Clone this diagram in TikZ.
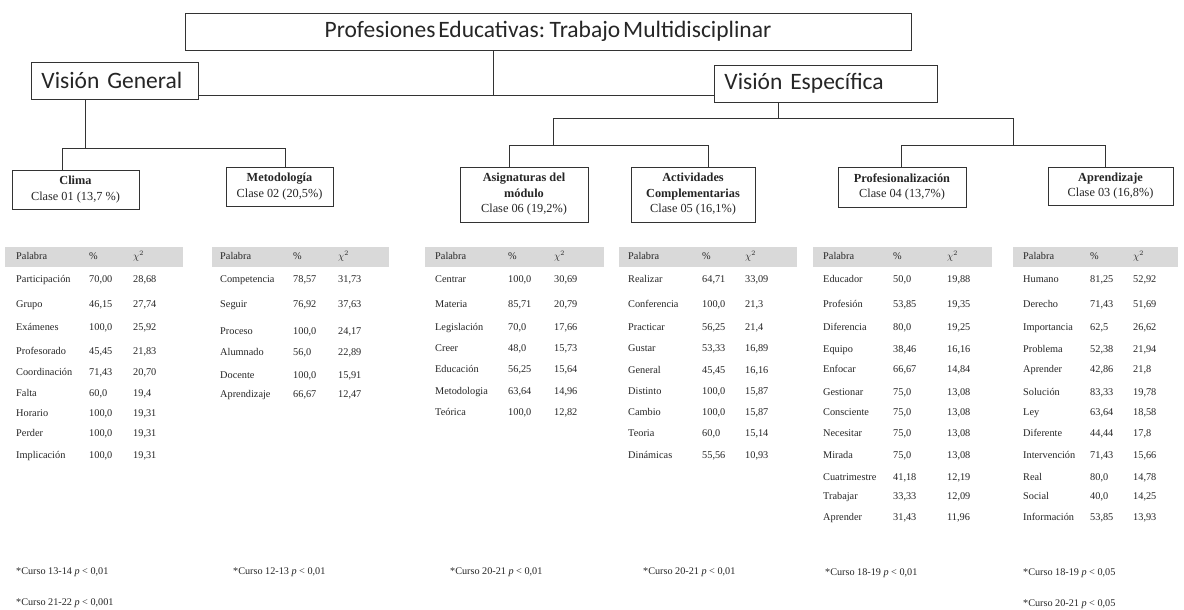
\documentclass[tikz,border=0pt]{standalone}
\usepackage{fontspec}
\setmainfont{Liberation Serif}
\newfontfamily\calibri[WordSpace=0.55]{Carlito}
\newcommand\settab[3]{\def\tXa{#1}\def\tXb{#2}\def\tXc{#3}}
\newcommand\trow[4]{%
  \node[cell] (w\tXa-#1) at (\tXa,#1) {#2};
  \node[cell] (p\tXa-#1) at (\tXb,#1) {#3};
  \node[cell] (c\tXa-#1) at (\tXc,#1) {#4};}
\begin{document}
\begin{tikzpicture}[x=1pt,y=-1pt,
  conn/.style={draw=black!80, line width=0.9pt},
  bigbox/.style={draw=black!80, line width=0.9pt, font=\calibri\fontsize{23.5}{26}\selectfont, inner xsep=10pt, inner ysep=0pt, align=left, anchor=west, text=black!85},
  clsbox/.style={draw=black!80, line width=0.9pt, font=\fontsize{12.3}{15.5}\selectfont, align=center, inner sep=0pt, text=black!85},
  cell/.style={anchor=west, inner sep=0pt, font=\fontsize{10.3}{12}\selectfont, text=black!85, text height=7pt, text depth=2pt},
  hdr/.style={fill=black!15, draw=none},
  foot/.style={anchor=west, inner sep=0pt, font=\fontsize{10.2}{12}\selectfont, text=black!85}]
\useasboundingbox (0,0) rectangle (1184,610);
\fill[white] (0,0) rectangle (1184,610);

% top boxes
\node[draw=black!80, line width=0.9pt, minimum width=726pt, minimum height=37pt, inner sep=0pt, text=black!85,
  font=\calibri\fontsize{23.5}{26}\selectfont] (title) at (548,31.5) {Profesiones Educativas: Trabajo Multidisciplinar};
\node[bigbox, text width=147pt, minimum height=37pt] (vg) at (31,80.5) {Visión General};
\node[bigbox, text width=203pt, minimum height=37pt] (ve) at (714,83.5) {Visión Específica};

% class boxes
\node[clsbox, minimum width=127pt, minimum height=39pt] (clima) at (75.5,189.5) {\textbf{Clima}\\Clase 01 (13,7 \%)};
\node[clsbox, minimum width=107pt, minimum height=39pt] (metod) at (279.5,186.5) {\textbf{Metodología}\\Clase 02 (20,5\%)};
\node[clsbox, minimum width=128pt, minimum height=55pt] (asig) at (524,194.5) {\textbf{Asignaturas del}\\\textbf{módulo}\\Clase 06 (19,2\%)};
\node[clsbox, minimum width=124pt, minimum height=55pt] (activ) at (693,194.5) {\textbf{Actividades}\\\textbf{Complementarias}\\Clase 05 (16,1\%)};
\node[clsbox, minimum width=128pt, minimum height=40pt] (prof) at (902,187) {\textbf{Profesionalización}\\Clase 04 (13,7\%)};
\node[clsbox, minimum width=125pt, minimum height=38pt] (apren) at (1110.5,186) {\textbf{Aprendizaje}\\Clase 03 (16,8\%)};

% connectors
\coordinate (j1) at (493,95);
\draw[conn] (title.south -| j1) -- (j1);
\draw[conn] (vg.east |- j1) -- (ve.west |- j1);

\coordinate (j2) at (85,148);
\coordinate (a1) at (62,148);
\coordinate (a2) at (285,148);
\draw[conn] (vg.south -| j2) -- (j2);
\draw[conn] (a1) -- (a2);
\draw[conn] (a1) -- (a1 |- clima.north);
\draw[conn] (a2) -- (a2 |- metod.north);

\coordinate (b0) at (778,118);
\coordinate (b1) at (553,118);
\coordinate (b2) at (1013,118);
\draw[conn] (ve.south -| b0) -- (b0);
\draw[conn] (b1) -- (b2);
\coordinate (c1) at (553,145);
\coordinate (c2) at (509,145);
\coordinate (c3) at (708,145);
\draw[conn] (b1) -- (c1);
\draw[conn] (c2) -- (c3);
\draw[conn] (c2) -- (c2 |- asig.north);
\draw[conn] (c3) -- (c3 |- activ.north);
\coordinate (d1) at (1013,145);
\coordinate (d2) at (901,145);
\coordinate (d3) at (1105,145);
\draw[conn] (b2) -- (d1);
\draw[conn] (d2) -- (d3);
\draw[conn] (d2) -- (d2 |- prof.north);
\draw[conn] (d3) -- (d3 |- apren.north);

% header bands
\fill[hdr] (5,247) rectangle (183,267);
\fill[hdr] (212,247) rectangle (389,267);
\fill[hdr] (425,247) rectangle (604,267);
\fill[hdr] (619,247) rectangle (797,267);
\fill[hdr] (813,247) rectangle (992,267);
\fill[hdr] (1013,247) rectangle (1178,267);

% table 1
\settab{16}{89}{133}
\trow{257}{Palabra}{\%}{$\chi^2$}
\trow{280}{Participación}{70,00}{28,68}
\trow{305}{Grupo}{46,15}{27,74}
\trow{328}{Exámenes}{100,0}{25,92}
\trow{352}{Profesorado}{45,45}{21,83}
\trow{373}{Coordinación}{71,43}{20,70}
\trow{394}{Falta}{60,0}{19,4}
\trow{414}{Horario}{100,0}{19,31}
\trow{434}{Perder}{100,0}{19,31}
\trow{456}{Implicación}{100,0}{19,31}

% table 2
\settab{220}{293}{338}
\trow{257}{Palabra}{\%}{$\chi^2$}
\trow{280}{Competencia}{78,57}{31,73}
\trow{305}{Seguir}{76,92}{37,63}
\trow{332}{Proceso}{100,0}{24,17}
\trow{353}{Alumnado}{56,0}{22,89}
\trow{376}{Docente}{100,0}{15,91}
\trow{395}{Aprendizaje}{66,67}{12,47}

% table 3
\settab{435}{508}{554}
\trow{257}{Palabra}{\%}{$\chi^2$}
\trow{280}{Centrar}{100,0}{30,69}
\trow{305}{Materia}{85,71}{20,79}
\trow{328}{Legislación}{70,0}{17,66}
\trow{349}{Creer}{48,0}{15,73}
\trow{370}{Educación}{56,25}{15,64}
\trow{392}{Metodologia}{63,64}{14,96}
\trow{413}{Teórica}{100,0}{12,82}

% table 4
\settab{628}{702}{745}
\trow{257}{Palabra}{\%}{$\chi^2$}
\trow{280}{Realizar}{64,71}{33,09}
\trow{305}{Conferencia}{100,0}{21,3}
\trow{328}{Practicar}{56,25}{21,4}
\trow{349}{Gustar}{53,33}{16,89}
\trow{371}{General}{45,45}{16,16}
\trow{392}{Distinto}{100,0}{15,87}
\trow{413}{Cambio}{100,0}{15,87}
\trow{434}{Teoria}{60,0}{15,14}
\trow{456}{Dinámicas}{55,56}{10,93}

% table 5
\settab{823}{893}{947}
\trow{257}{Palabra}{\%}{$\chi^2$}
\trow{280}{Educador}{50,0}{19,88}
\trow{305}{Profesión}{53,85}{19,35}
\trow{328}{Diferencia}{80,0}{19,25}
\trow{350}{Equipo}{38,46}{16,16}
\trow{370}{Enfocar}{66,67}{14,84}
\trow{393}{Gestionar}{75,0}{13,08}
\trow{413}{Consciente}{75,0}{13,08}
\trow{434}{Necesitar}{75,0}{13,08}
\trow{456}{Mirada}{75,0}{13,08}
\trow{478}{Cuatrimestre}{41,18}{12,19}
\trow{497}{Trabajar}{33,33}{12,09}
\trow{518}{Aprender}{31,43}{11,96}

% table 6
\settab{1023}{1090}{1133}
\trow{257}{Palabra}{\%}{$\chi^2$}
\trow{280}{Humano}{81,25}{52,92}
\trow{305}{Derecho}{71,43}{51,69}
\trow{328}{Importancia}{62,5}{26,62}
\trow{350}{Problema}{52,38}{21,94}
\trow{370}{Aprender}{42,86}{21,8}
\trow{393}{Solución}{83,33}{19,78}
\trow{413}{Ley}{63,64}{18,58}
\trow{434}{Diferente}{44,44}{17,8}
\trow{456}{Intervención}{71,43}{15,66}
\trow{478}{Real}{80,0}{14,78}
\trow{497}{Social}{40,0}{14,25}
\trow{518}{Información}{53,85}{13,93}

% footnotes
\node[foot] (f1) at (16,572) {*Curso 13-14 \textit{p} < 0,01};
\node[foot] (f2) at (16,603) {*Curso 21-22 \textit{p} < 0,001};
\node[foot] (f3) at (233,572) {*Curso 12-13 \textit{p} < 0,01};
\node[foot] (f4) at (450,572) {*Curso 20-21 \textit{p} < 0,01};
\node[foot] (f5) at (643,572) {*Curso 20-21 \textit{p} < 0,01};
\node[foot] (f6) at (825,573) {*Curso 18-19 \textit{p} < 0,01};
\node[foot] (f7) at (1023,573) {*Curso 18-19 \textit{p} < 0,05};
\node[foot] (f8) at (1023,604) {*Curso 20-21 \textit{p} < 0,05};
\end{tikzpicture}
\end{document}
